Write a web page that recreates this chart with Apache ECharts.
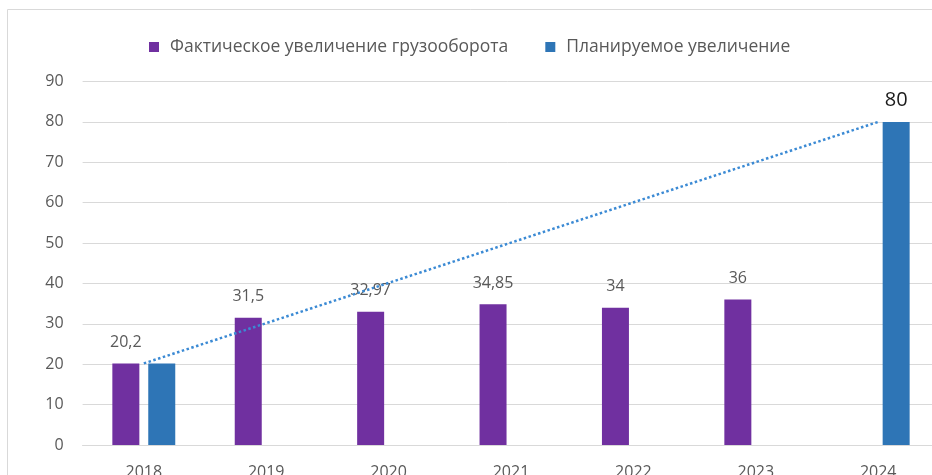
<!DOCTYPE html>
<html>
<head>
<meta charset="utf-8">
<script src="https://cdn.jsdelivr.net/npm/echarts@6/dist/echarts.min.js"></script>
<style>
  html, body { margin: 0; padding: 0; background: #fff; }
  #chart { width: 932px; height: 475px; }
</style>
</head>
<body>
<div id="chart"></div>
<script>
// Years on the category axis
const years = ['2018', '2019', '2020', '2021', '2022', '2023', '2024'];
// Actual growth of cargo turnover (null where no value)
const actual = [20.2, 31.5, 32.97, 34.85, 34, 36, null];
// Planned growth (only start and target years)
const planned = [20.2, null, null, null, null, null, 80];
// Trend between the planned start and target points
const trend = [20.2, null, null, null, null, null, 80];
// Value axis ticks
const yMin = 0, yMax = 90, yStep = 10;

const FONT = '"Open Sans", "Noto Sans", sans-serif';
const GREY = '#595959';
const fmt = v => String(v).replace('.', ',');

const chart = echarts.init(document.getElementById('chart'), null, { renderer: 'canvas' });

const plannedItems = planned.map((v, i) => ({
  value: v,
  label: { show: v != null && i === planned.length - 1 }
}));

chart.setOption({
  animation: false,
  textStyle: { fontFamily: FONT },
  graphic: [{
    type: 'rect',
    shape: { x: 7.5, y: 9.5, width: 950, height: 480 },
    style: { fill: 'none', stroke: '#d9d9d9', lineWidth: 1 },
    silent: true
  }],
  legend: {
    top: 38,
    left: 149,
    padding: 0,
    itemWidth: 10,
    itemHeight: 10,
    itemGap: 37,
    icon: 'rect',
    data: ['Фактическое увеличение грузооборота', 'Планируемое увеличение'],
    textStyle: { fontFamily: FONT, fontSize: 17.5, color: GREY, padding: [0, 0, 0, 6] }
  },
  // the plot runs past the right and bottom edges of the canvas
  grid: {
    left: 82.6, top: 81.5, width: 856.8, height: 363.5,
    containLabel: false,
    outerBoundsMode: 'none'
  },
  xAxis: {
    type: 'category',
    data: years,
    boundaryGap: true,
    axisTick: { show: false },
    axisLine: { show: true, lineStyle: { color: '#d9d9d9', width: 1 } },
    axisLabel: { fontFamily: FONT, fontSize: 16, color: GREY, margin: 19 }
  },
  yAxis: {
    type: 'value',
    min: yMin,
    max: yMax,
    interval: yStep,
    axisLine: { show: false },
    axisTick: { show: false },
    splitLine: { lineStyle: { color: '#d9d9d9', width: 1 } },
    axisLabel: { fontFamily: FONT, fontSize: 16, color: GREY, margin: 19 }
  },
  series: [
    {
      name: 'Фактическое увеличение грузооборота',
      type: 'bar',
      data: actual,
      barWidth: 27,
      barGap: '33%',
      itemStyle: { color: '#7030a0' },
      label: {
        show: true,
        position: 'top',
        distance: 13,
        fontFamily: FONT,
        fontSize: 16,
        color: GREY,
        formatter: p => fmt(p.value)
      },
      z: 2
    },
    {
      name: 'Планируемое увеличение',
      type: 'bar',
      data: plannedItems,
      barWidth: 27,
      barGap: '33%',
      itemStyle: { color: '#2e75b6' },
      label: {
        show: false,
        position: 'top',
        distance: 12,
        fontFamily: FONT,
        fontSize: 20,
        color: '#1a1a1a',
        formatter: p => fmt(p.value)
      },
      z: 2
    },
    {
      name: 'trend',
      type: 'line',
      data: trend,
      connectNulls: true,
      symbol: 'none',
      silent: true,
      lineStyle: { color: '#3b8ad4', width: 2.5, type: [2.5, 2.5], cap: 'butt' },
      z: 5
    }
  ]
});
</script>
</body>
</html>
